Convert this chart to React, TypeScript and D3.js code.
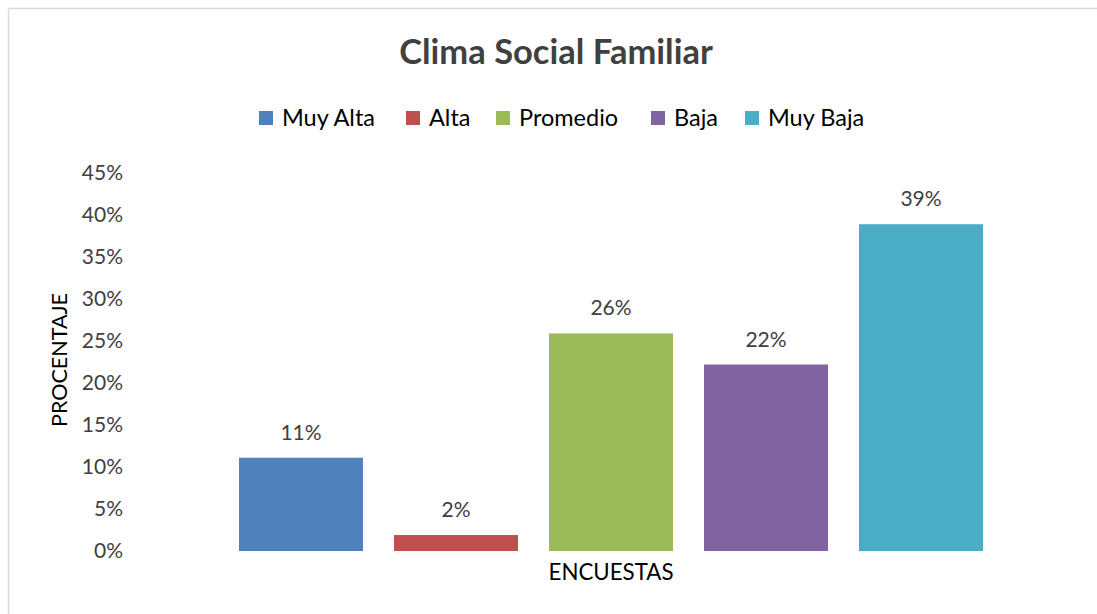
import React from "react";
import * as d3 from "d3";

const categories = ["Muy Alta", "Alta", "Promedio", "Baja", "Muy Baja"];
const values = [0.111, 0.019, 0.259, 0.222, 0.389];
const colors = ["#4F81BD", "#C0504D", "#9BBB59", "#8064A2", "#4BACC6"];
const yTicks = [0, 0.05, 0.1, 0.15, 0.2, 0.25, 0.3, 0.35, 0.4, 0.45];
const title = "Clima Social Familiar";
const xTitle = "ENCUESTAS";
const yTitle = "PROCENTAJE";

const W = 1097;
const H = 614;
const FONT = "Lato, 'Open Sans', sans-serif";

export default function App() {
  const y = d3.scaleLinear().domain([0, 0.45]).range([551, 173]);
  const x = d3.scaleBand<string>().domain(categories).range([239, 983]).paddingInner(0.2).paddingOuter(0);
  const pct = d3.format(".0%");

  const legendX = [259, 406, 496, 651, 745];

  return (
    <svg width={W} height={H} style={{ position: "absolute", left: 0, top: 0, display: "block", background: "#fff" }}>
      <line x1={8.5} y1={8.5} x2={W} y2={8.5} stroke="#d9d9d9" strokeWidth={1.5} />
      <line x1={8.5} y1={8.5} x2={8.5} y2={H} stroke="#d9d9d9" strokeWidth={1.5} />
      <text x={556} y={64} textAnchor="middle" fontFamily={FONT} fontWeight="bold" fontSize={34.5} fill="#404040">
        {title}
      </text>
      {categories.map((c, i) => (
        <g key={c}>
          <rect x={legendX[i]} y={111} width={14} height={14} fill={colors[i]} />
          <text x={legendX[i] + 23} y={126} fontFamily={FONT} fontSize={23.5} fill="#000">
            {c}
          </text>
        </g>
      ))}
      {yTicks.map((t) => (
        <text key={t} x={123} y={y(t)} dy="0.35em" textAnchor="end" fontFamily={FONT} fontSize={21} fill="#404040">
          {pct(t)}
        </text>
      ))}
      {categories.map((c, i) => (
        <g key={c}>
          <rect x={x(c)} y={y(values[i])} width={x.bandwidth()} height={y(0) - y(values[i])} fill={colors[i]} />
          <text
            x={(x(c) as number) + x.bandwidth() / 2}
            y={y(values[i]) - 18}
            textAnchor="middle"
            fontFamily={FONT}
            fontSize={21}
            fill="#404040"
          >
            {pct(values[i])}
          </text>
        </g>
      ))}
      <text x={611} y={580} textAnchor="middle" fontFamily={FONT} fontSize={22.3} fill="#000">
        {xTitle}
      </text>
      <text
        transform={`translate(67,360) rotate(-90)`}
        textAnchor="middle"
        fontFamily={FONT}
        fontSize={21.5}
        fill="#000"
      >
        {yTitle}
      </text>
    </svg>
  );
}
